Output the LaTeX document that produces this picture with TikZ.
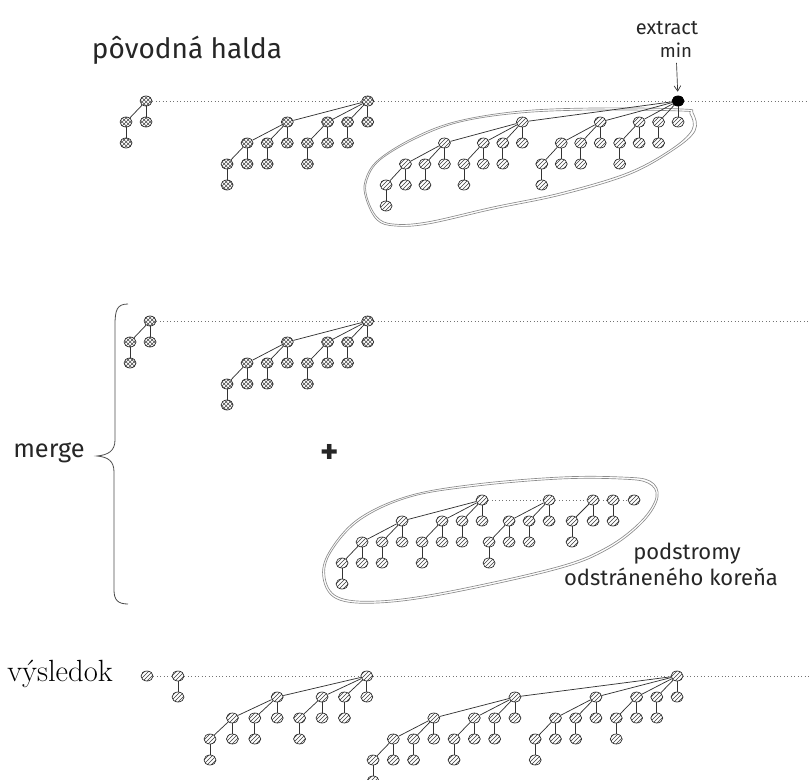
\documentclass[tikz,border=0pt]{standalone}
\usepackage{fontspec}
\newfontfamily\hand{Fira Sans}
\usetikzlibrary{patterns,arrows.meta,shapes.geometric}
\tikzset{
  hn/.style={ellipse, draw=black!85, line width=0.5pt, minimum width=9pt, minimum height=7.5pt, inner sep=0pt},
  nL/.style={hn, preaction={fill=white}, pattern=north east lines, pattern color=black!75},
  nD/.style={hn, preaction={fill=white}, pattern=crosshatch, pattern color=black!70},
  blk/.style={ellipse, fill=black, draw=black, minimum width=9pt, minimum height=7.5pt, inner sep=0pt},
  edge/.style={draw=black!80, line width=0.55pt},
  rootline/.style={draw=black!55, line width=0.6pt, dotted},
  loopline/.style={draw=black!45, line width=0.5pt},
  handtxt/.style={font=\hand, text=black!85, inner sep=0pt}
}
\newcommand\bt[6]{%
 \begingroup
 \pgfmathtruncatemacro\bk{#2}%
 \ifnum\bk=0 \def\bw{1}\else\pgfmathtruncatemacro\bw{2^(\bk-1)}\fi
 \pgfmathsetmacro\brx{#3+(\bw-1)*#5}%
 \node[#6] (#1) at (\brx,#4) {};
 \ifnum\bk>0
  \pgfmathtruncatemacro\bkm{\bk-1}%
  \pgfmathsetmacro\cy{#4+21}%
  \foreach \j in {0,...,\bkm}{%
    \pgfmathsetmacro\cx{#3+(\bw-2^\j)*#5}%
    \edef\btnext{\noexpand\bt{#1\j}{\j}{\cx}{\cy}{#5}{#6}}%
    \btnext
    \draw[edge] (#1) -- (#1\j);
  }%
 \fi
 \endgroup}
\begin{document}
\begin{tikzpicture}[x=0.75pt,y=-0.75pt]
\useasboundingbox (0,0) rectangle (809,780);

% ---------- original heap ----------
\node[handtxt, font=\hand\fontsize{21}{24}\selectfont] (title) at (187,50) {pôvodná halda};
\node[handtxt, font=\hand\fontsize{15}{17}\selectfont] (tex) at (667,28) {extract};
\node[handtxt, font=\hand\fontsize{14}{16}\selectfont] (tmin) at (676,50) {min};

\draw[loopline] plot[smooth cycle, tension=0.6] coordinates {(680,111) (593,110) (520,113) (460,122) (417,138) (380,160) (367,180) (367,197) (377,217) (393,224) (427,222) (493,207) (560,193) (627,173) (670,150) (692,130) (690,114)};
\draw[loopline] plot[smooth cycle, tension=0.6] coordinates {(682,109) (595,108) (521,111) (458,121) (415,137) (378,160) (365,181) (366,199) (377,220) (395,226) (428,224) (494,209) (561,195) (628,175) (672,151) (695,131) (693,113)};

\bt{p2}{2}{126}{101}{20}{nD}
\bt{p4}{4}{227}{101}{20.1}{nD}
\bt{p5}{5}{386}{101}{19.47}{nL}
\node[blk] (p5b) at (p5) {};
\coordinate (e1) at (809,101);
\draw[rootline] (p2) -- (p4) -- (p5) -- (e1);
\draw[-{Straight Barb[length=4pt,width=5pt]}, black!80, line width=0.5pt, shorten <=4pt, shorten >=3pt] (tmin) -- (p5b);

% ---------- merge ----------
\draw[black!70, line width=0.6pt] (128,304) .. controls (117,304) and (115,310) .. (115,325) -- (115,440) .. controls (115,451) and (108,455) .. (97,456) .. controls (108,457) and (114,461) .. (114,472) -- (114,590) .. controls (114,600) and (118,604) .. (128,604);
\node[handtxt, font=\hand\fontsize{19}{21}\selectfont] (tmerge) at (49,453) {merge};
\node[handtxt, font=\hand\bfseries\fontsize{26}{28}\selectfont] (plus) at (330,454) {+};

\bt{m2}{2}{130}{321}{20}{nD}
\bt{m4}{4}{227}{321}{20.1}{nD}
\coordinate (e2) at (809,321);
\draw[rootline] (m2) -- (m4) -- (e2);

\draw[loopline] plot[smooth cycle, tension=0.6] coordinates {(560,479) (477,486) (410,497) (360,520) (331,552) (325,577) (338,597) (378,601) (445,592) (557,567) (607,547) (641,521) (656,497) (648,483) (620,479)};
\draw[loopline] plot[smooth cycle, tension=0.6] coordinates {(561,477) (476,484) (408,496) (358,519) (329,552) (323,578) (337,599) (378,603) (446,594) (558,569) (608,549) (643,522) (658,497) (650,481) (621,477)};
\bt{s4}{4}{342}{500}{20}{nL}
\bt{s3}{3}{489}{500}{20}{nL}
\bt{s2}{2}{572}{500}{21}{nL}
\bt{s1}{1}{613}{500}{20}{nL}
\bt{s0}{0}{634}{500}{20}{nL}
\draw[rootline] (s4) -- (s3) -- (s2) -- (s1) -- (s0);
\node[handtxt, font=\hand\fontsize{16.5}{18}\selectfont] (tpod1) at (687,554) {podstromy};
\node[handtxt, font=\hand\fontsize{16.5}{18}\selectfont] (tpod2) at (671,577) {odstráneného koreňa};

% ---------- result ----------
\node[inner sep=0pt, font=\fontsize{23}{26}\selectfont] (tres) at (60,674) {výsledok};
\bt{r0}{0}{147}{676}{20}{nL}
\bt{r1}{1}{178}{676}{20}{nL}
\bt{r4}{4}{210}{676}{22.4}{nL}
\bt{r5}{5}{373}{676}{20.27}{nL}
\coordinate (e3) at (809,676);
\draw[rootline] (r0) -- (r1) -- (r4) -- (r5) -- (e3);
\end{tikzpicture}
\end{document}
